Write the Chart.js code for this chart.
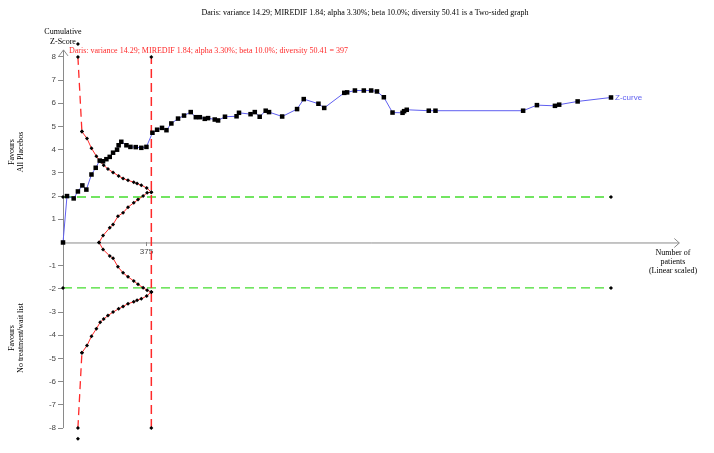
<!DOCTYPE html>
<html>
<head>
<meta charset="utf-8">
<script src="https://cdn.jsdelivr.net/npm/chart.js@4.4.0/dist/chart.umd.min.js"></script>
<style>
  html, body { margin: 0; padding: 0; background: #fff; }
  #wrap { width: 714px; height: 453px; }
</style>
</head>
<body>
<div id="wrap"><canvas id="tsa" width="714" height="453"></canvas></div>
<script>
const titleText = 'Daris: variance 14.29; MIREDIF 1.84; alpha 3.30%; beta 10.0%; diversity 50.41 is a Two-sided graph';
const risText = 'Daris: variance 14.29; MIREDIF 1.84; alpha 3.30%; beta 10.0%; diversity 50.41 = 397';
const risPatients = 397;
const zoneLimit = 1.96;

// cumulative Z-curve (patients, z)
const zPatients = [0, 18, 48, 67, 87, 105, 128, 147, 165, 180, 195, 210, 225, 243, 250, 262, 285, 303, 327, 352,
  375, 402, 423, 445, 465, 487, 517, 544, 574, 597, 615, 637, 652, 682, 697, 728, 780, 791, 843, 862,
  884, 911, 926, 985, 1052, 1082, 1148, 1174, 1264, 1277, 1312, 1352, 1385, 1411, 1442, 1481, 1526, 1533, 1545, 1644,
  1674, 2068, 2130, 2211, 2230, 2313, 2463];
const zScores = [0, 2.0, 1.9, 2.2, 2.46, 2.28, 2.93, 3.22, 3.53, 3.5, 3.59, 3.69, 3.87, 4.0, 4.19, 4.34, 4.19, 4.12, 4.11, 4.08,
  4.12, 4.73, 4.86, 4.94, 4.84, 5.13, 5.34, 5.47, 5.62, 5.4, 5.4, 5.33, 5.36, 5.3, 5.26, 5.42, 5.44, 5.59, 5.53, 5.62,
  5.42, 5.68, 5.62, 5.43, 5.75, 6.18, 5.98, 5.8, 6.45, 6.47, 6.55, 6.55, 6.55, 6.51, 6.26, 5.6, 5.59, 5.66, 5.72, 5.68,
  5.68, 5.68, 5.92, 5.89, 5.94, 6.08, 6.25];

// alpha-spending boundaries
const firstBoundPatients = 67;
const firstBoundShown = [8, -8];
const firstBoundRaw = [8.56, -8.46];
const boundPatients = [85, 108, 128, 150, 167, 183, 202, 225, 250, 270, 292, 318, 333, 352, 376, 397];
const upperBound = [4.78, 4.48, 4.06, 3.72, 3.5, 3.33, 3.17, 3.02, 2.87, 2.76, 2.68, 2.6, 2.54, 2.47, 2.35, 2.17];
const lowerBound = [-4.75, -4.44, -4.04, -3.72, -3.44, -3.3, -3.15, -3.0, -2.86, -2.76, -2.64, -2.56, -2.49, -2.43, -2.31, -2.13];

// futility (inner wedge)
const futPatients = [162, 180, 210, 225, 247, 270, 292, 318, 337, 360, 378, 397];
const futUpper = [0, 0.3, 0.63, 0.78, 1.13, 1.28, 1.52, 1.71, 1.85, 2.0, 2.14, 2.17];
const futLower = [0, -0.3, -0.58, -0.68, -1.05, -1.31, -1.48, -1.66, -1.8, -1.95, -2.06, -2.13];

const yTicks = [8, 7, 6, 5, 4, 3, 2, 1, -1, -2, -3, -4, -5, -6, -7, -8];
const xTicks = [375];

const pts = (xs, ys) => xs.map((x, i) => ({ x: x, y: ys[i] }));

const RED = '#ff2a2a';
const BLUE = '#5f5ff0';
const GREEN = '#44dd2e';
const AXIS = '#8a8a8a';
const SERIF = '"Liberation Serif", "Times New Roman", serif';
const SANS = '"Liberation Sans", Arial, sans-serif';

function boundLine(data, dashed) {
    return {
        data: data,
        showLine: true,
        clip: false,
        borderColor: RED,
        borderWidth: dashed ? 1.3 : 1,
        borderDash: dashed ? [8, 5] : [],
        pointStyle: 'rectRot',
        pointRadius: 2,
        pointBackgroundColor: '#000',
        pointBorderWidth: 0,
    };
}

// axis arrows and free text
const decor = {
    id: 'decor',
    beforeDatasetsDraw(chart) {
        const { ctx, scales: { x, y } } = chart;
        const x0 = x.getPixelForValue(0);
        const y0 = y.getPixelForValue(0);
        const yTop = y.getPixelForValue(8.3);
        const xEnd = x.getPixelForValue(2770);
        ctx.save();
        ctx.strokeStyle = AXIS;
        ctx.lineWidth = 1;
        ctx.beginPath();
        ctx.moveTo(x0 + 0.5, y.getPixelForValue(-8));
        ctx.lineTo(x0 + 0.5, yTop);
        ctx.moveTo(x0 - 4, yTop + 6);
        ctx.lineTo(x0 + 0.5, yTop);
        ctx.lineTo(x0 + 5, yTop + 6);
        ctx.moveTo(x0, y0 + 0.5);
        ctx.lineTo(xEnd, y0 + 0.5);
        ctx.moveTo(xEnd - 5, y0 - 4);
        ctx.lineTo(xEnd, y0 + 0.5);
        ctx.lineTo(xEnd - 5, y0 + 5);
        ctx.stroke();
        ctx.restore();
    },
    afterDraw(chart) {
        const { ctx, scales: { x, y } } = chart;
        const x0 = x.getPixelForValue(0);
        ctx.save();
        ctx.fillStyle = '#000';
        ctx.font = '8px ' + SERIF;
        ctx.textAlign = 'center';
        ctx.textBaseline = 'middle';
        ctx.fillText(titleText, 365, 13);
        ctx.fillText('Cumulative', x0, 32);
        ctx.fillText('Z-Score', x0, 42);
        ctx.fillText('Number of', 673, 253);
        ctx.fillText('patients', 673, 262);
        ctx.fillText('(Linear scaled)', 673, 271);

        // rotated side labels
        const side = (lines, cy) => {
            ctx.save();
            ctx.translate(12, cy);
            ctx.rotate(-Math.PI / 2);
            ctx.fillText(lines[0], 0, 0);
            ctx.fillText(lines[1], 0, 9);
            ctx.restore();
        };
        side(['Favours', 'All Placebos'], 152);
        side(['Favours', 'No treatment/wait list'], 338);

        ctx.fillStyle = RED;
        ctx.textAlign = 'left';
        ctx.fillText(risText, x0 + 6, 51);

        const last = zPatients.length - 1;
        ctx.fillStyle = BLUE;
        ctx.font = '8px ' + SANS;
        ctx.fillText('Z-curve', x.getPixelForValue(zPatients[last]) + 4, y.getPixelForValue(zScores[last]));
        ctx.restore();
    }
};

const lastPatients = zPatients[zPatients.length - 1];

new Chart(document.getElementById('tsa'), {
    type: 'scatter',
    data: {
        datasets: [
            {
                data: pts(zPatients, zScores),
                showLine: true,
                clip: false,
                borderColor: BLUE,
                borderWidth: 1,
                pointStyle: 'rect',
                pointRadius: 3.2,
                pointBackgroundColor: '#000',
                pointBorderWidth: 0,
            },
            boundLine(pts(boundPatients, upperBound), false),
            boundLine(pts(boundPatients, lowerBound), false),
            boundLine([{ x: firstBoundPatients, y: firstBoundShown[0] }, { x: boundPatients[0], y: upperBound[0] }], true),
            boundLine([{ x: firstBoundPatients, y: firstBoundShown[1] }, { x: boundPatients[0], y: lowerBound[0] }], true),
            Object.assign(boundLine(firstBoundRaw.map(v => ({ x: firstBoundPatients, y: v })), false), { showLine: false }),
            boundLine(pts(futPatients, futUpper), false),
            boundLine(pts(futPatients, futLower), false),
            Object.assign(boundLine([{ x: risPatients, y: -8 }, { x: risPatients, y: 8 }], true), { borderWidth: 1.5, borderDash: [9, 5] }),
            {
                data: [{ x: 0, y: zoneLimit }, { x: lastPatients, y: zoneLimit }],
                showLine: true, clip: false, borderColor: GREEN, borderWidth: 1.3, borderDash: [9, 5],
                pointStyle: 'rectRot', pointRadius: 2, pointBackgroundColor: '#000', pointBorderWidth: 0,
            },
            {
                data: [{ x: 0, y: -zoneLimit }, { x: lastPatients, y: -zoneLimit }],
                showLine: true, clip: false, borderColor: GREEN, borderWidth: 1.3, borderDash: [9, 5],
                pointStyle: 'rectRot', pointRadius: 2, pointBackgroundColor: '#000', pointBorderWidth: 0,
            },
        ],
    },
    options: {
        responsive: false,
        animation: false,
        layout: { padding: { left: 0, top: 36, right: 28, bottom: 11 } },
        plugins: { legend: { display: false }, tooltip: { enabled: false } },
        scales: {
            x: {
                type: 'linear',
                min: 0,
                max: 2800,
                position: { y: 0 },
                border: { display: false },
                grid: { drawOnChartArea: false, tickLength: 4, color: AXIS },
                ticks: { color: '#444', font: { family: SANS, size: 8 }, padding: 1, autoSkip: false, maxRotation: 0 },
                afterBuildTicks: (scale) => { scale.ticks = xTicks.map(v => ({ value: v })); },
                afterFit: (scale) => { scale.height = 0; },
            },
            y: {
                type: 'linear',
                min: -8.6,
                max: 8.9,
                border: { display: false },
                grid: { drawOnChartArea: false, tickLength: 5, color: AXIS },
                ticks: { color: '#444', font: { family: SANS, size: 8 }, padding: 2, autoSkip: false },
                afterBuildTicks: (scale) => { scale.ticks = yTicks.map(v => ({ value: v })); },
                afterFit: (scale) => { scale.width = 63; },
            },
        },
    },
    plugins: [decor],
});
</script>
</body>
</html>
